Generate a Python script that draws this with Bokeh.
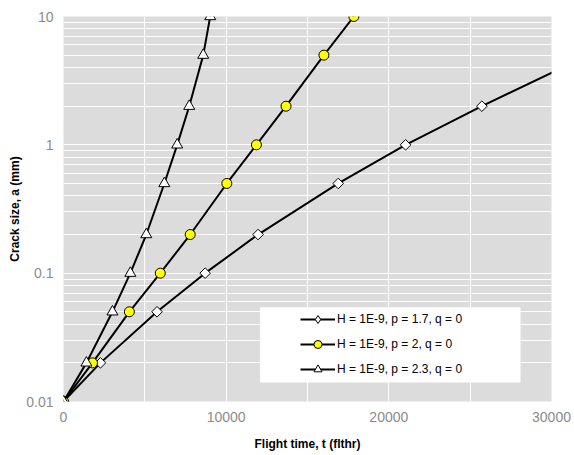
import math
from bokeh.plotting import figure
from bokeh.models import (FixedTicker, Range1d, Legend, LegendItem, BoxAnnotation,
                          CustomJSTickFormatter, NumeralTickFormatter)
from bokeh.embed import file_html
from bokeh.resources import INLINE

# ---- data ----
t_p17 = [0, 2270, 5750, 8710, 11960, 16890, 21030, 25720]
a_p17 = [0.01, 0.02, 0.05, 0.1, 0.2, 0.5, 1.0, 2.0]
t_p17_tail = [30300]
a_p17_tail = [3.8]

t_p20 = [0, 1780, 4050, 5950, 7790, 10040, 11860, 13680, 16010, 17850]
a_p20 = [0.01, 0.02, 0.05, 0.1, 0.2, 0.5, 1.0, 2.0, 5.0, 10.0]

t_p23 = [0, 1410, 3010, 4110, 5090, 6200, 6990, 7730, 8590, 9020]
a_p23 = [0.01, 0.02, 0.05, 0.1, 0.2, 0.5, 1.0, 2.0, 5.0, 10.0]

labels = ["H = 1E-9, p = 1.7, q = 0", "H = 1E-9, p = 2, q = 0", "H = 1E-9, p = 2.3, q = 0"]

x_ticks = [0, 10000, 20000, 30000]
x_grid = [0, 5000, 10000, 15000, 20000, 25000, 30000]
y_ticks = [0.01, 0.1, 1, 10]
y_minor = [m * d for d in [0.01, 0.1, 1] for m in range(2, 10)]

FONT = "Liberation Sans"

p = figure(width=574, height=455, output_backend="svg", toolbar_location=None,
           y_axis_type="log", x_range=Range1d(0, 30000), y_range=Range1d(0.01, 10),
           min_border_left=63, min_border_right=23, min_border_top=16, min_border_bottom=54)
p.outline_line_color = None
p.background_fill_color = "#DCDCDC"
p.border_fill_color = "white"

# grids
p.xgrid.ticker = FixedTicker(ticks=x_grid)
p.xgrid.grid_line_color = "white"
p.xgrid.grid_line_width = 1
p.ygrid.ticker = FixedTicker(ticks=y_ticks, minor_ticks=y_minor)
p.ygrid.grid_line_color = "white"
p.ygrid.minor_grid_line_color = "white"
p.ygrid.grid_line_width = 1

# axes
p.xaxis.ticker = FixedTicker(ticks=x_ticks)
p.xaxis.formatter = NumeralTickFormatter(format="0")
p.yaxis.ticker = FixedTicker(ticks=y_ticks)
p.yaxis.formatter = CustomJSTickFormatter(code="return tick.toString();")
for ax in (p.xaxis[0], p.yaxis[0]):
    ax.axis_line_color = None
    ax.major_tick_line_color = None
    ax.minor_tick_line_color = None
    ax.major_tick_out = 0
    ax.major_tick_in = 0
    ax.minor_tick_out = 0
    ax.minor_tick_in = 0
    ax.major_label_text_font = FONT
    ax.major_label_text_font_size = "14px"
    ax.major_label_text_color = "#8c8c8c"
    ax.axis_label_text_font = FONT
    ax.axis_label_text_font_size = "12px"
    ax.axis_label_text_font_style = "bold"
    ax.axis_label_text_color = "black"
p.xaxis.axis_label = "Flight time, t (flthr)"
p.yaxis.axis_label = "Crack size, a (mm)"
p.xaxis.major_label_standoff = 10
p.xaxis.axis_label_standoff = 12
p.yaxis.major_label_standoff = 10
p.yaxis.axis_label_standoff = 1

# legend box
p.add_layout(BoxAnnotation(left=12086, right=28098, bottom=0.01407, top=0.0542,
                           fill_color="white", fill_alpha=1, line_color=None))

# series
l1 = p.line(t_p17 + t_p17_tail, a_p17 + a_p17_tail, line_color="black", line_width=2)
s1 = p.scatter(t_p17, a_p17, marker="square", angle=math.pi / 4, size=7.5,
               fill_color="white", line_color="black", line_width=1)
# legend-only proxy for the diamond marker (a single NaN point, never drawn)
s1_key = p.scatter([float("nan")], [float("nan")], marker="diamond", size=9,
                   fill_color="white", line_color="black", line_width=1)
l2 = p.line(t_p20, a_p20, line_color="black", line_width=2)
s2 = p.scatter(t_p20, a_p20, marker="circle", size=10, fill_color="yellow",
               line_color="black", line_width=1)
l3 = p.line(t_p23, a_p23, line_color="black", line_width=2)
s3 = p.scatter(t_p23, a_p23, marker="triangle", size=11, fill_color="white",
               line_color="black", line_width=1)

legend = Legend(items=[LegendItem(label=labels[0], renderers=[l1, s1_key]),
                       LegendItem(label=labels[1], renderers=[l2, s2]),
                       LegendItem(label=labels[2], renderers=[l3, s3])],
                location=(237, 22), background_fill_alpha=0, border_line_alpha=0,
                padding=0, margin=0, spacing=5, glyph_width=35, glyph_height=20,
                label_height=20, label_standoff=2, label_text_font=FONT,
                label_text_font_size="12px", label_text_color="black")
p.add_layout(legend)

open("out.html", "w").write(file_html(p, INLINE))
